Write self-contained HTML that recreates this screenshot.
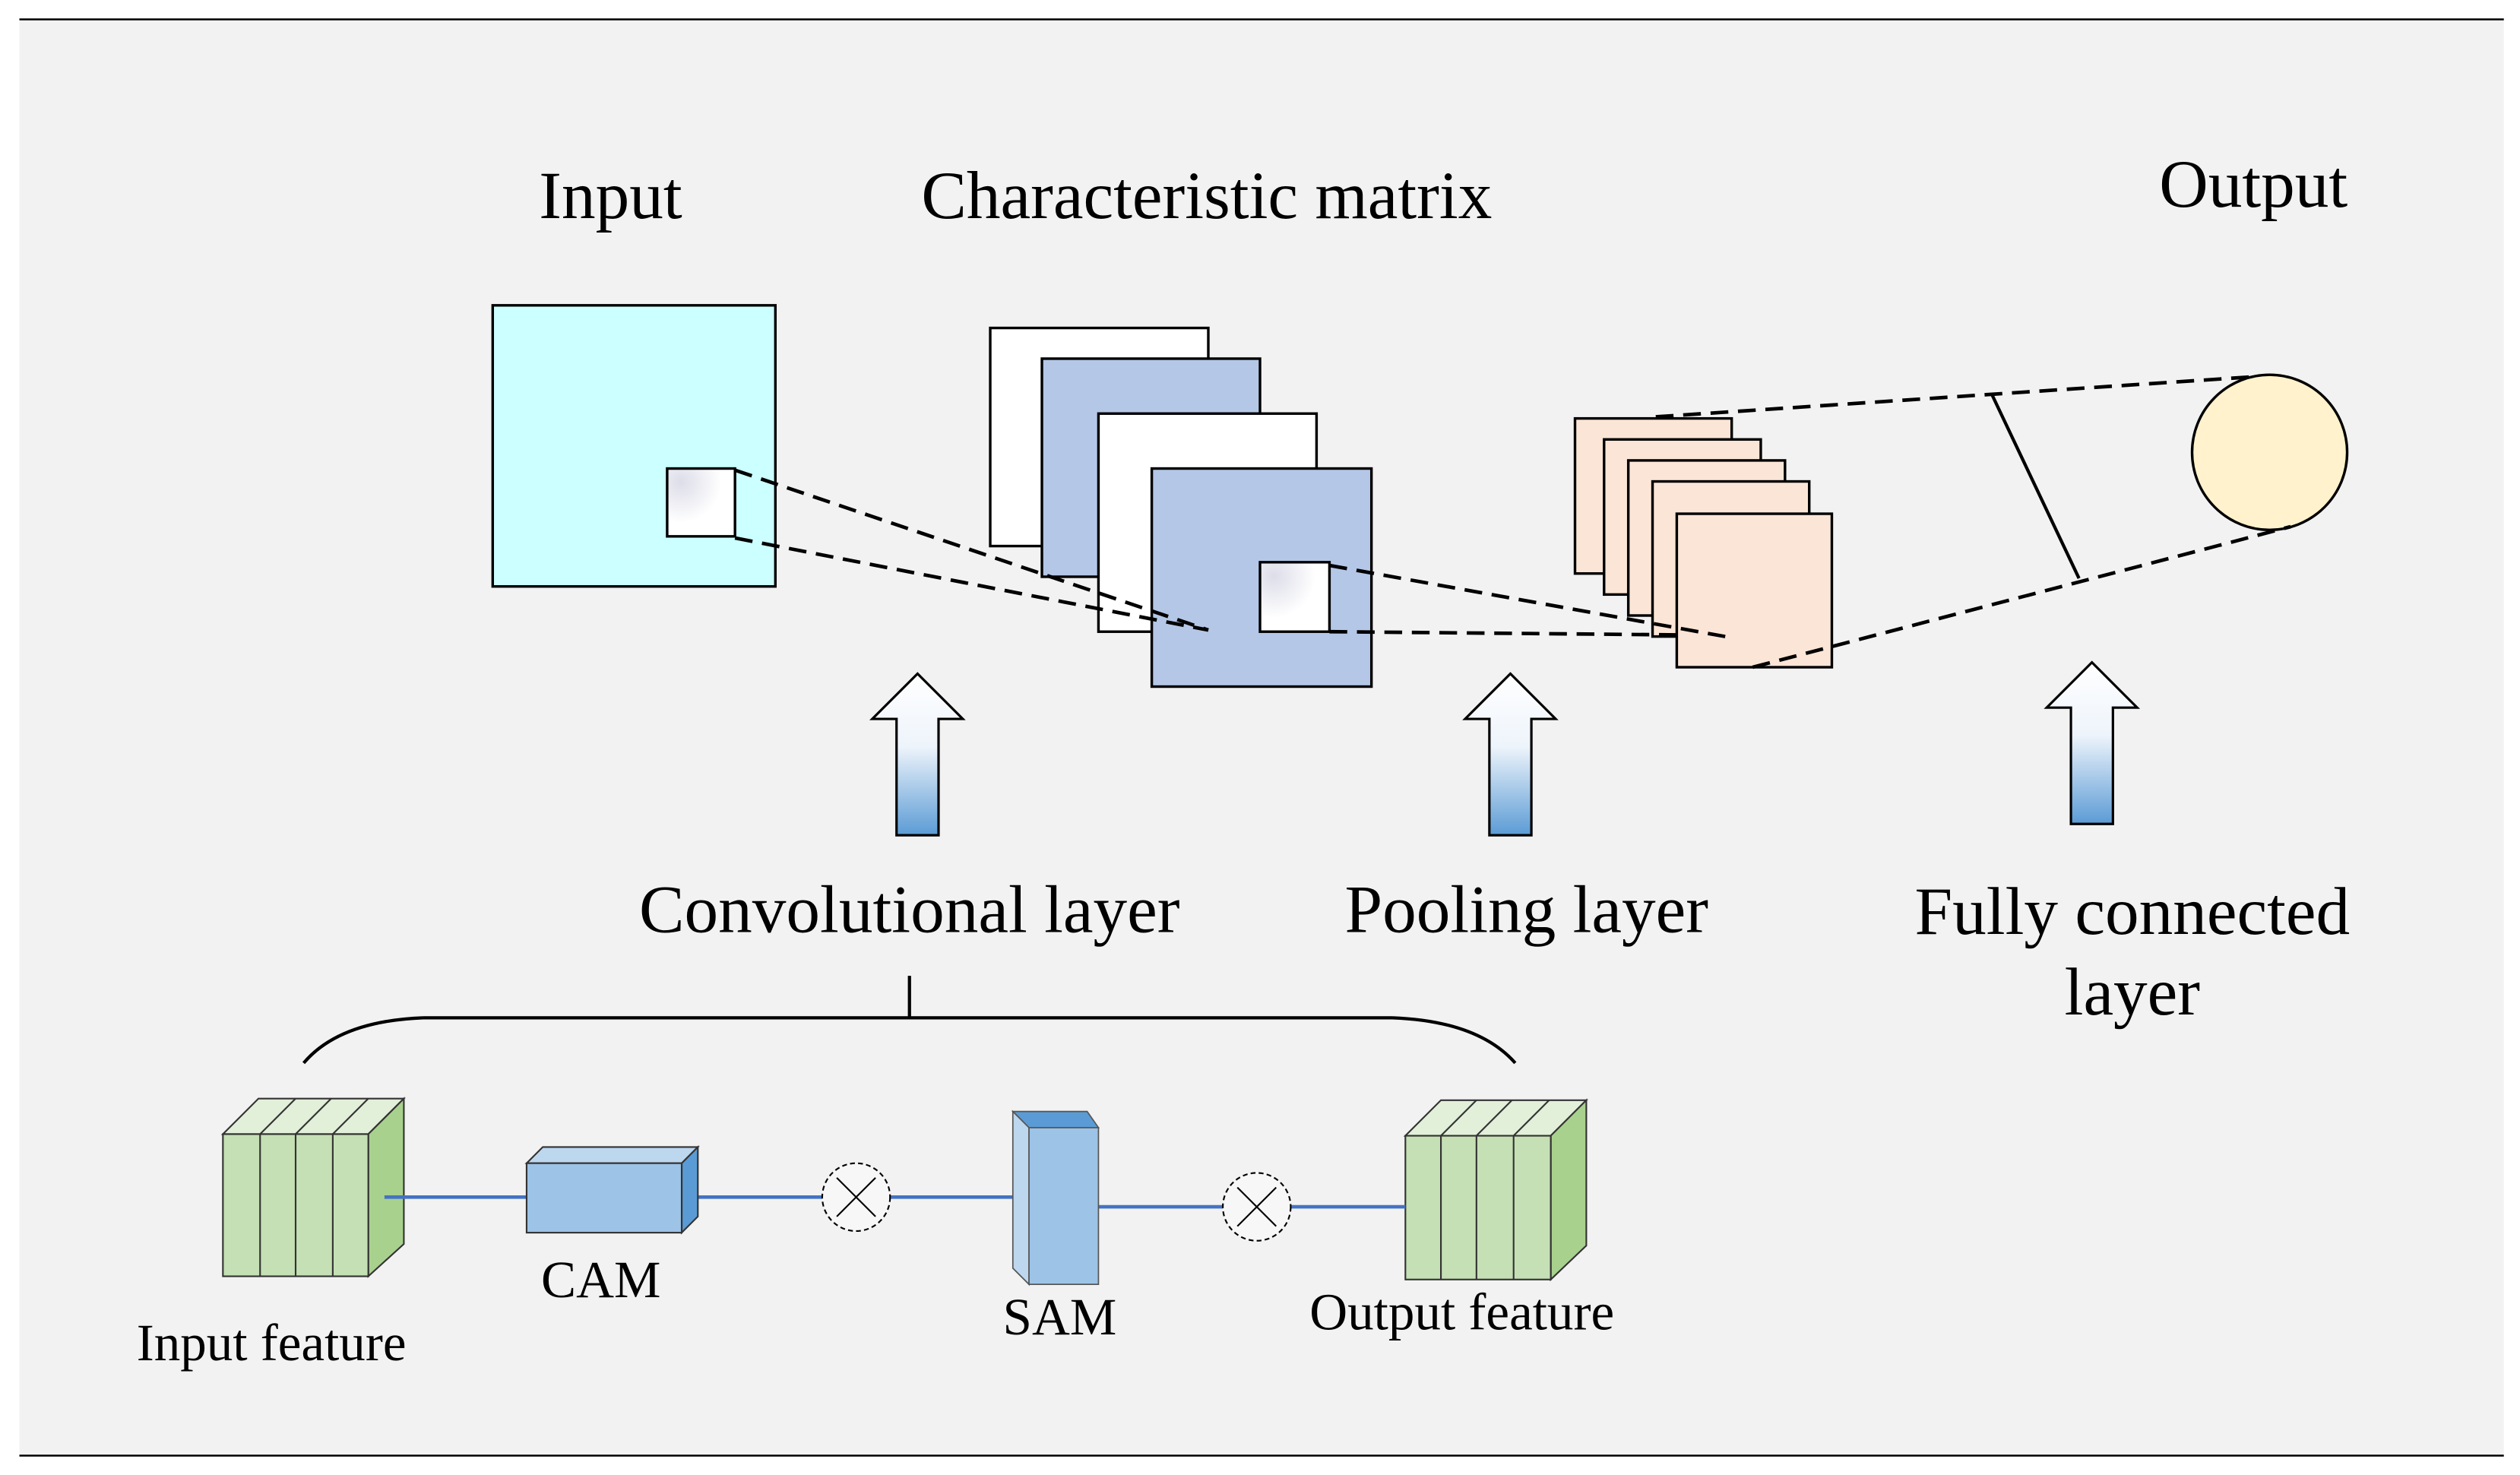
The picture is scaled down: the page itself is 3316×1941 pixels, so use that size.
<!DOCTYPE html>
<html><head><style>
html,body{margin:0;padding:0;background:#fff;}
svg{display:block;}
text{font-family:"Liberation Serif",serif;fill:#000;}
</style></head><body>
<svg width="3316" height="1941" viewBox="0 0 1560 913" preserveAspectRatio="none" xmlns="http://www.w3.org/2000/svg">
<defs>
<linearGradient id="ag" x1="0" y1="0" x2="0" y2="1">
<stop offset="0" stop-color="#ffffff"/><stop offset="0.45" stop-color="#eef4fb"/><stop offset="1" stop-color="#5b9bd5"/>
</linearGradient>
<radialGradient id="sq" cx="0.2" cy="0.2" r="1">
<stop offset="0" stop-color="#dcdde8"/><stop offset="0.6" stop-color="#ffffff"/>
</radialGradient>
</defs>
<rect x="12" y="12" width="1538" height="889" fill="#f2f2f2"/>
<line x1="12" y1="12" x2="1550" y2="12" stroke="#000" stroke-width="1.2"/>
<line x1="12" y1="901" x2="1550" y2="901" stroke="#000" stroke-width="1.2"/>

<g font-size="42" text-anchor="middle">
<text x="378" y="135">Input</text>
<text x="747" y="135">Characteristic matrix</text>
<text x="1395" y="128">Output</text>
<text x="563" y="577">Convolutional layer</text>
<text x="945" y="577">Pooling layer</text>
<text x="1320" y="578">Fully connected</text>
<text x="1320" y="628">layer</text>
</g>

<g stroke="#000" stroke-width="1.6">
<rect x="305" y="189" width="175" height="174" fill="#ccffff"/>
<rect x="413" y="290" width="42" height="42" fill="url(#sq)"/>
<rect x="613" y="203" width="135" height="135" fill="#fff"/>
<rect x="645" y="222" width="135" height="135" fill="#b4c7e7"/>
<rect x="680" y="256" width="135" height="135" fill="#fff"/>
<rect x="713" y="290" width="136" height="135" fill="#b4c7e7"/>
<rect x="780" y="348" width="43" height="43" fill="url(#sq)"/>
<rect x="975" y="259" width="97" height="96" fill="#fbe5d6"/>
<rect x="993" y="272" width="97" height="96" fill="#fbe5d6"/>
<rect x="1008" y="285" width="97" height="96" fill="#fbe5d6"/>
<rect x="1023" y="298" width="97" height="96" fill="#fbe5d6"/>
<rect x="1038" y="318" width="96" height="95" fill="#fbe5d6"/>
<circle cx="1405" cy="280" r="48" fill="#fff2cc"/>
</g>
<g stroke="#000" stroke-width="2.2" stroke-dasharray="11,6" fill="none">
<line x1="455" y1="291" x2="748" y2="390"/>
<line x1="455" y1="333" x2="748" y2="390"/>
<line x1="823" y1="350" x2="1068" y2="394"/>
<line x1="823" y1="391" x2="1040" y2="393"/>
<line x1="1025" y1="258" x2="1398" y2="233"/>
<line x1="1085" y1="413" x2="1418" y2="326"/>
</g>
<line x1="1233" y1="244" x2="1287" y2="358" stroke="#000" stroke-width="2"/>

<g stroke="#000" stroke-width="1.5" fill="url(#ag)">
<path d="M568,417 L596,445 L581,445 L581,517 L555,517 L555,445 L540,445 Z"/>
<path d="M935,417 L963,445 L948,445 L948,517 L922,517 L922,445 L907,445 Z"/>
<path d="M1295,410 L1323,438 L1308,438 L1308,510 L1282,510 L1282,438 L1267,438 Z"/>
</g>

<path d="M563,604 L563,630 M262,630 L862,630 M262,630 Q210,632 188,658 M862,630 Q915,632 938,658" stroke="#000" stroke-width="2" fill="none"/>

<g stroke="#333" stroke-width="1">
<path d="M138,702 L160,680 L250,680 L228,702 Z" fill="#e2efd9"/>
<path d="M161,702 L183,680 M183,702 L205,680 M206,702 L228,680" fill="none"/>
<path d="M228,702 L250,680 L250,770 L228,790 Z" fill="#a9d18e"/>
<rect x="138" y="702" width="90" height="88" fill="#c5e0b4"/>
<path d="M161,702 V790 M183,702 V790 M206,702 V790" fill="none"/>
</g>
<g stroke="#333" stroke-width="1">
<path d="M870,703 L892,681 L982,681 L960,703 Z" fill="#e2efd9"/>
<path d="M892,703 L914,681 M914,703 L936,681 M937,703 L959,681" fill="none"/>
<path d="M960,703 L982,681 L982,771 L960,792 Z" fill="#a9d18e"/>
<rect x="870" y="703" width="90" height="89" fill="#c5e0b4"/>
<path d="M892,703 V792 M914,703 V792 M937,703 V792" fill="none"/>
</g>
<g stroke="#4472c4" stroke-width="2.2">
<line x1="238" y1="741" x2="326" y2="741"/>
<line x1="432" y1="741" x2="509" y2="741"/>
<line x1="551" y1="741" x2="633" y2="741"/>
<line x1="680" y1="747" x2="757" y2="747"/>
<line x1="799" y1="747" x2="870" y2="747"/>
</g>
<g stroke="#333" stroke-width="1">
<path d="M326,720 L336,710 L432,710 L422,720 Z" fill="#bdd7ee"/>
<path d="M422,720 L432,710 L432,753 L422,763 Z" fill="#5b9bd5"/>
<rect x="326" y="720" width="96" height="43" fill="#9dc3e6"/>
</g>
<g stroke="#555" stroke-width="0.8">
<path d="M627,688 L673,688 L680,698 L637,698 Z" fill="#5b9bd5"/>
<path d="M627,688 L637,698 L637,795 L627,785 Z" fill="#bdd7ee"/>
<rect x="637" y="698" width="43" height="97" fill="#9dc3e6"/>
</g>
<g stroke="#000" stroke-width="1" fill="#f7f7f7">
<circle cx="530" cy="741" r="21" stroke-dasharray="3,2"/>
<path d="M518,729 L542,753 M542,729 L518,753" fill="none"/>
<circle cx="778" cy="747" r="21" stroke-dasharray="3,2"/>
<path d="M766,735 L790,759 M790,735 L766,759" fill="none"/>
</g>
<g font-size="32.5" text-anchor="middle">
<text x="372" y="803">CAM</text>
<text x="168" y="842">Input feature</text>
<text x="656" y="826">SAM</text>
<text x="905" y="823">Output feature</text>
</g>
</svg>
</body></html>
